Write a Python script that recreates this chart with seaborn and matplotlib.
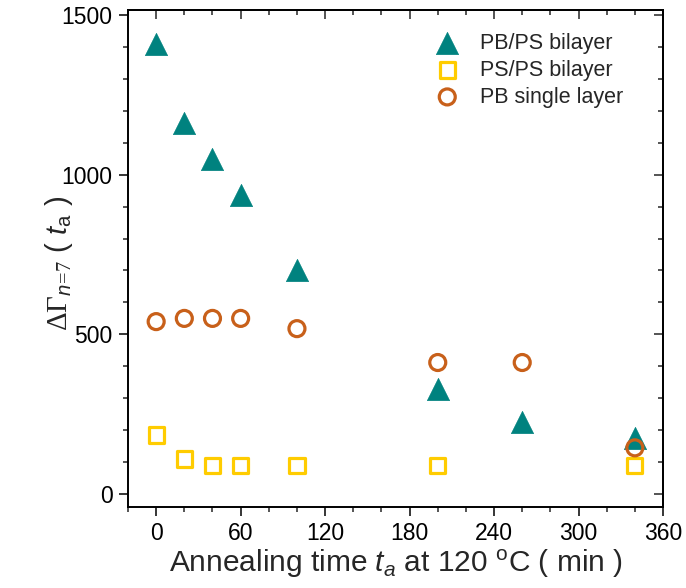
import matplotlib
matplotlib.use("Agg")
import matplotlib.pyplot as plt
import seaborn as sns
import numpy as np
import pandas as pd
from matplotlib.ticker import MultipleLocator

# ---- data ----
t_pbps = [0, 20, 40, 60, 100, 200, 260, 340]
g_pbps = [1410, 1160, 1050, 935, 700, 330, 225, 175]

t_psps = [0, 20, 40, 60, 100, 200, 340]
g_psps = [185, 110, 90, 90, 90, 90, 90]

t_pb = [0, 20, 40, 60, 100, 200, 260, 340]
g_pb = [540, 550, 550, 550, 518, 412, 412, 145]

labels = ["PB/PS bilayer", "PS/PS bilayer", "PB single layer"]
x_ticks = [0, 60, 120, 180, 240, 300, 360]
y_ticks = [0, 500, 1000, 1500]

teal = "#00827F"
gold = "#FFCC00"
rust = "#C8601A"

sns.set_style("ticks")
plt.rcParams["font.family"] = ["Liberation Sans", "DejaVu Sans"]
plt.rcParams["mathtext.fontset"] = "custom"
plt.rcParams["mathtext.rm"] = "Liberation Serif"
plt.rcParams["mathtext.it"] = "Liberation Sans:italic"
plt.rcParams["mathtext.sf"] = "Liberation Sans"
plt.rcParams["mathtext.bf"] = "Liberation Sans:bold"

fig = plt.figure(figsize=(6.86, 5.88), dpi=100)
ax = fig.add_axes([0.1866, 0.1378, 0.7799, 0.8452])

sns.scatterplot(x=t_pbps, y=g_pbps, ax=ax, marker="^", s=16**2, color=teal,
                edgecolor=teal, linewidth=0.5, label=labels[0], zorder=3)
sns.scatterplot(x=t_psps, y=g_psps, ax=ax, marker="s", s=11**2, facecolor="none",
                edgecolor=gold, linewidth=2.3, label=labels[1], zorder=3)
sns.scatterplot(x=t_pb, y=g_pb, ax=ax, marker="o", s=11.5**2, facecolor="none",
                edgecolor=rust, linewidth=2.3, label=labels[2], zorder=3)

ax.set_xlim(-20, 360)
ax.set_ylim(-40, 1515)
ax.set_xticks(x_ticks)
ax.set_yticks(y_ticks)
ax.xaxis.set_minor_locator(MultipleLocator(20))
ax.yaxis.set_minor_locator(MultipleLocator(100))

for s in ax.spines.values():
    s.set_visible(True)
    s.set_linewidth(1.4)
    s.set_color("black")

ax.tick_params(which="major", direction="out", length=6.5, width=1.1, labelsize=16.5,
               colors="black", pad=4.5)
ax.tick_params(which="minor", direction="out", length=3.5, width=1.1)

secx = ax.secondary_xaxis("top")
secx.set_xticks(x_ticks)
secx.xaxis.set_minor_locator(MultipleLocator(20))
secx.tick_params(which="major", direction="in", length=6.5, width=1.1, labeltop=False)
secx.tick_params(which="minor", direction="in", length=3.5, width=1.1)
secx.spines["top"].set_linewidth(1.4)

secy = ax.secondary_yaxis("right")
secy.set_yticks(y_ticks)
secy.yaxis.set_minor_locator(MultipleLocator(100))
secy.tick_params(which="major", direction="in", length=6.5, width=1.1, labelright=False)
secy.tick_params(which="minor", direction="in", length=3.5, width=1.1)
secy.spines["right"].set_linewidth(1.4)

ax.set_xlabel(r"Annealing time $t_a$ at 120 $^{\mathsf{o}}$C ( min )", fontsize=21.5,
              labelpad=2)
ax.set_ylabel(r"$\Delta\Gamma_{\mathit{n}\!=\!\mathit{7}}$ $\mathsf{(}$ $t_{\mathsf{a}}$ $\mathsf{)}$",
              fontsize=21)
ax.yaxis.set_label_coords(-0.1, 0.49)

leg = ax.legend(loc="upper right", bbox_to_anchor=(0.953, 0.985), frameon=False,
                fontsize=15.5, handletextpad=0.5, labelspacing=0.28,
                borderaxespad=0.3)

fig.savefig("out.png", dpi=100)
